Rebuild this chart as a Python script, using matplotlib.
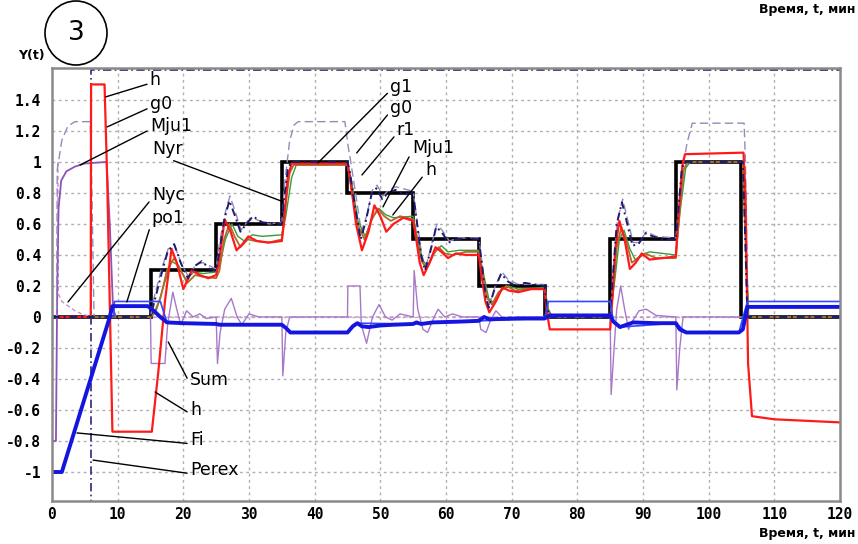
import matplotlib
matplotlib.use('Agg')
import matplotlib.pyplot as plt
from matplotlib.patches import Ellipse

# --- data (t in min) ---
nyr_edges = [0, 15, 25, 35, 45, 55, 65, 75, 85, 95, 105, 120]
nyr_levels = [0, 0.3, 0.6, 1.0, 0.8, 0.5, 0.2, 0, 0.5, 1.0, 0]

h_red = [(0, 0), (5.9, 0), (5.95, 1.5), (8.0, 1.5), (8.4, 0.9), (9.2, -0.74), (15.2, -0.74),
         (16.2, -0.35), (17.2, 0.1), (18.2, 0.44), (19.0, 0.35), (20.0, 0.18), (21.3, 0.3),
         (22.5, 0.27), (23.8, 0.25), (25.0, 0.27), (25.4, 0.35), (26.3, 0.63), (27.2, 0.55),
         (28.1, 0.43), (29.0, 0.47), (29.9, 0.52), (31.2, 0.49), (33.0, 0.48), (35.0, 0.49),
         (35.3, 0.6), (35.9, 0.9), (36.5, 0.99), (45.0, 0.99), (45.4, 0.9), (46.3, 0.6),
         (47.2, 0.43), (48.2, 0.55), (49.1, 0.72), (50.0, 0.65), (50.9, 0.55), (52.0, 0.6),
         (53.5, 0.64), (55.0, 0.62), (55.3, 0.55), (56.0, 0.35), (56.6, 0.27), (57.5, 0.35),
         (58.4, 0.45), (59.3, 0.42), (60.3, 0.38), (61.5, 0.41), (63, 0.4), (65, 0.4),
         (65.3, 0.3), (66.0, 0.1), (66.6, 0.03), (67.6, 0.1), (68.6, 0.19), (69.6, 0.17),
         (71, 0.16), (73, 0.18), (75, 0.18), (75.3, 0.05), (75.8, -0.08), (85, -0.08),
         (85.3, 0.1), (85.8, 0.45), (86.4, 0.62), (87.2, 0.5), (88.0, 0.31), (88.9, 0.35),
         (89.8, 0.41), (91, 0.37), (93, 0.38), (95, 0.39), (95.3, 0.6), (96.0, 0.98),
         (96.4, 1.05), (105.3, 1.06), (105.6, 0.8), (106.0, -0.3), (106.6, -0.64),
         (110, -0.66), (120, -0.68)]

brown = [(0, 0), (15, 0), (15.5, 0.02), (16.5, 0.12), (17.5, 0.3), (18.6, 0.38), (19.6, 0.3),
         (20.6, 0.22), (21.8, 0.27), (23, 0.26), (25, 0.25), (25.5, 0.3), (26.2, 0.5), (27, 0.6),
         (27.8, 0.52), (28.7, 0.45), (29.8, 0.5), (31, 0.49), (33, 0.48), (35, 0.5), (35.5, 0.7),
         (36.2, 0.93), (36.8, 0.98), (45, 0.98), (45.5, 0.85), (46.5, 0.6), (47.6, 0.5),
         (48.6, 0.62), (49.6, 0.7), (50.6, 0.65), (51.6, 0.62), (53, 0.65), (55, 0.63),
         (55.5, 0.5), (56.4, 0.35), (57.1, 0.32), (58, 0.4), (58.9, 0.45), (59.8, 0.41),
         (61, 0.4), (63, 0.42), (65, 0.42), (65.5, 0.3), (66.3, 0.12), (67, 0.08), (68, 0.16),
         (69.2, 0.2), (70.5, 0.17), (72, 0.18), (75, 0.18), (75.5, 0.05), (76, 0), (85, 0),
         (85.4, 0.15), (86, 0.45), (86.7, 0.58), (87.5, 0.48), (88.3, 0.35), (89.3, 0.38),
         (90.3, 0.41), (92, 0.38), (95, 0.38), (95.5, 0.65), (96.2, 0.95), (96.8, 1.0),
         (105.2, 1.0), (105.6, 0.5), (106, 0), (120, 0)]

green = [(0, 0), (15, 0), (15.8, 0.03), (17, 0.2), (18.2, 0.36), (19.3, 0.33), (20.4, 0.24),
         (21.6, 0.29), (23, 0.28), (25, 0.29), (25.5, 0.33), (26.4, 0.5), (27.4, 0.6),
         (28.3, 0.52), (29.3, 0.49), (30.5, 0.53), (32, 0.52), (35, 0.53), (35.6, 0.65),
         (36.5, 0.9), (37.2, 0.98), (45, 0.99), (45.6, 0.88), (46.6, 0.62), (47.7, 0.52),
         (48.8, 0.64), (49.8, 0.7), (50.8, 0.66), (52, 0.64), (55, 0.65), (55.6, 0.52),
         (56.5, 0.36), (57.3, 0.33), (58.3, 0.42), (59.3, 0.46), (60.3, 0.42), (62, 0.43),
         (65, 0.43), (65.6, 0.3), (66.5, 0.12), (67.3, 0.09), (68.4, 0.17), (69.5, 0.2),
         (71, 0.18), (75, 0.19), (75.6, 0.05), (76.2, 0), (85, 0), (85.6, 0.2), (86.4, 0.5),
         (87.1, 0.56), (88, 0.44), (88.8, 0.37), (89.8, 0.4), (91, 0.42), (95, 0.4),
         (95.7, 0.7), (96.5, 0.96), (97.2, 1.0), (105.2, 1.0), (105.6, 0.55), (106.1, 0), (120, 0)]

g1_navy = [(0, 0), (15, 0), (15.3, 0.05), (16.5, 0.25), (17.6, 0.42), (18.6, 0.47), (19.6, 0.35),
           (20.7, 0.25), (21.8, 0.33), (22.8, 0.36), (24, 0.31), (25, 0.3), (25.4, 0.4),
           (26.2, 0.62), (27, 0.75), (27.8, 0.66), (28.7, 0.55), (29.6, 0.6), (30.6, 0.65),
           (32, 0.61), (35, 0.6), (35.3, 0.75), (35.9, 0.95), (36.4, 1.0), (45, 1.0),
           (45.3, 0.95), (46.2, 0.7), (47, 0.5), (47.8, 0.62), (48.7, 0.8), (49.4, 0.83),
           (50.3, 0.76), (51.2, 0.8), (52.3, 0.82), (53.5, 0.79), (55, 0.8), (55.3, 0.7),
           (56.2, 0.4), (56.8, 0.3), (57.6, 0.42), (58.5, 0.58), (59.3, 0.55), (60.4, 0.48),
           (61.6, 0.5), (63, 0.51), (65, 0.5), (65.3, 0.4), (66, 0.15), (66.5, 0.06),
           (67.4, 0.18), (68.4, 0.28), (69.4, 0.23), (70.6, 0.2), (72, 0.22), (75, 0.2),
           (75.4, 0.05), (76, 0), (85, 0), (85.3, 0.2), (86, 0.6), (86.8, 0.74), (87.6, 0.6),
           (88.4, 0.46), (89.3, 0.47), (90.4, 0.54), (91.5, 0.52), (93, 0.5), (95, 0.5),
           (95.3, 0.65), (95.9, 0.95), (96.3, 1.0), (105.2, 1.0), (105.5, 0.6), (105.9, 0),
           (120, 0)]

g0_lav = [(0, 0), (0.7, 0), (0.8, 0.95), (1.5, 1.14), (2.4, 1.23), (3.5, 1.26), (5.8, 1.26),
          (6.0, 1.0), (6.4, 0), (15, 0), (15.4, 0.1), (16.6, 0.3), (17.7, 0.44), (18.7, 0.46),
          (19.7, 0.34), (20.8, 0.26), (21.9, 0.34), (23, 0.35), (25, 0.31), (25.4, 0.45),
          (26.3, 0.66), (27.1, 0.78), (27.9, 0.68), (28.8, 0.56), (29.8, 0.62), (31, 0.63),
          (33, 0.6), (35, 0.61), (35.4, 0.85), (36.2, 1.14), (36.9, 1.24), (37.5, 1.26),
          (44.6, 1.26), (45.1, 1.1), (45.5, 1.0), (46.4, 0.75), (47.1, 0.55), (47.9, 0.65),
          (48.8, 0.82), (49.5, 0.85), (50.4, 0.78), (51.3, 0.82), (52.4, 0.84), (55, 0.81),
          (55.4, 0.68), (56.3, 0.4), (56.9, 0.32), (57.7, 0.45), (58.6, 0.6), (59.4, 0.56),
          (60.5, 0.49), (62, 0.51), (65, 0.51), (65.4, 0.38), (66.1, 0.14), (66.6, 0.08),
          (67.5, 0.2), (68.5, 0.29), (69.5, 0.24), (71, 0.21), (75, 0.21), (75.5, 0.04),
          (76.1, 0), (85, 0), (85.4, 0.25), (86.1, 0.62), (86.9, 0.76), (87.7, 0.62),
          (88.5, 0.48), (89.4, 0.48), (90.5, 0.55), (92, 0.52), (95, 0.51), (95.4, 0.7),
          (96.2, 1.0), (96.7, 1.12), (97.5, 1.25), (105.4, 1.25), (105.6, 1.0), (106.0, 0),
          (120, 0)]

mju1 = [(0, -0.8), (0.6, -0.8), (0.8, 0.2), (1.0, 0.7), (1.4, 0.88), (2.2, 0.94), (3.5, 0.97),
        (5, 0.99), (8.3, 1.0), (8.8, 0.6), (9.3, 0.05), (9.8, 0)]

nyc = [(0.9, 1.0), (0.95, 0.15), (1.5, 0.1), (2.5, 0.07), (3.5, 0.04), (4.5, 0.02), (6, 0), (120, 0)]

sum_purple = [(0, 0), (15, 0), (15.1, -0.3), (17.2, -0.3), (17.6, -0.05), (18.4, 0.16), (19.0, 0.05),
              (19.6, -0.05), (20.5, 0.04), (21.5, 0.0), (22.5, 0.02), (23.5, -0.01), (25, 0),
              (25.2, -0.3), (25.6, -0.1), (26.3, 0.05), (27.3, 0.12), (28.2, 0.0), (28.9, -0.05),
              (30, 0.02), (31.5, 0.0), (35, 0), (35.15, -0.38), (35.6, -0.1), (36.2, 0.0), (45, 0),
              (45.05, 0.2), (46.9, 0.2), (47.1, -0.05), (47.9, -0.17), (48.8, 0.0), (49.8, 0.08),
              (50.8, 0.0), (51.8, -0.02), (53, 0.02), (55, 0), (55.15, 0.3), (55.7, 0.05),
              (56.5, -0.08), (57.2, -0.1), (58.2, 0.0), (58.8, 0.05), (59.8, 0.0), (61, 0.02),
              (62.5, 0.0), (65, 0), (65.3, -0.08), (66.1, -0.1), (66.8, -0.02), (67.6, 0.04),
              (68.5, 0.0), (69.5, -0.02), (71, 0), (85, 0), (85.15, -0.5), (85.6, -0.2),
              (86.0, 0.05), (86.6, 0.2), (87.2, 0.05), (87.8, -0.08), (88.5, -0.02), (89.4, 0.04),
              (90.5, 0.05), (92, 0.01), (95, 0), (95.15, -0.47), (95.6, -0.2), (96.1, 0), (120, 0)]

fi_blue = [(0, -1), (1.5, -1), (8.8, 0.0), (9.2, 0.07), (14.6, 0.07), (15.5, 0.04), (16.5, 0.0),
           (17.5, -0.035), (20, -0.04), (25, -0.045), (25.5, -0.05), (35, -0.05), (35.6, -0.07),
           (36.3, -0.1), (45, -0.1), (45.8, -0.06), (46.5, -0.04), (47.2, -0.06), (48.2, -0.065),
           (50, -0.055), (52, -0.05), (55, -0.045), (55.5, -0.035), (56.2, -0.045), (58, -0.035),
           (62, -0.03), (65, -0.025), (65.8, 0.0), (66.6, -0.015), (70, -0.01), (75, -0.01),
           (75.8, 0.01), (85, 0.01), (85.5, -0.03), (86.5, -0.065), (87.5, -0.05), (88.5, -0.035),
           (92, -0.04), (95, -0.04), (95.6, -0.08), (96.6, -0.1), (104.6, -0.1), (105.2, -0.08),
           (105.9, 0.065), (120, 0.065)]

po1_blue = [(9.4, 0.0), (9.5, 0.1), (16.5, 0.1), (17.5, -0.035), (25, -0.045), (35, -0.05),
            (36.3, -0.1), (45, -0.1), (46.5, -0.04), (55, -0.045), (65, -0.025), (75, -0.01),
            (75.6, 0.1), (85, 0.1), (85.5, -0.03), (86.5, -0.065), (95, -0.04), (96.6, -0.1),
            (104.6, -0.1), (105.9, 0.1), (120, 0.1)]

perex = [(0, -1.3), (6.0, -1.3), (6.0, 1.595), (120, 1.595)]

# label, point on curve, text position
labels = [("h", (8.2, 1.42), (14.9, 1.53)),
          ("g0", (8.4, 1.226), (14.9, 1.374)),
          ("Mju1", (4.26, 0.98), (14.9, 1.232)),
          ("Nyr", (34.9, 0.748), (15.2, 1.084)),
          ("Nyc", (2.44, 0.097), (15.2, 0.787)),
          ("po1", (11.4, 0.097), (15.2, 0.639)),
          ("Sum", (17.7, -0.161), (21.0, -0.406)),
          ("h", (15.7, -0.484), (21.0, -0.6)),
          ("Fi", (3.8, -0.748), (21.0, -0.794)),
          ("Perex", (6.24, -0.923), (21.0, -0.987)),
          ("g1", (40.5, 0.994), (51.5, 1.484)),
          ("g0", (46.4, 1.058), (51.5, 1.348)),
          ("r1", (47.2, 0.916), (52.5, 1.206)),
          ("Mju1", (50.4, 0.71), (54.8, 1.09)),
          ("h", (51.9, 0.658), (56.8, 0.948))]

xticks = list(range(0, 121, 10))
yticks = [-1, -0.8, -0.6, -0.4, -0.2, 0, 0.2, 0.4, 0.6, 0.8, 1, 1.2, 1.4]

fig = plt.figure(figsize=(8.58, 5.44), dpi=100)
ax = fig.add_axes([52 / 858, 43 / 544, 788 / 858, 433 / 544])


def line(pts, **kw):
    t, y = zip(*pts)
    ax.plot(t, y, **kw)


line(perex, color='#2a2a78', lw=1.2, ls=(0, (5, 2, 1, 2)))
line(nyc, color='#c890c8', lw=1.0, ls=(0, (3, 2)))
line(sum_purple, color='#a878c8', lw=1.0)
line(mju1, color='#9050b8', lw=1.3)
line(g0_lav, color='#9888b8', lw=1.0, ls=(0, (6, 3)))
line(green, color='#3a9a3a', lw=1.0)
line(brown, color='#b06a2c', lw=1.3)
line(h_red, color='#ff1a1a', lw=1.6)
line(g1_navy, color='#1c1c70', lw=1.4, ls=(0, (4, 2, 1, 2)))
ax.stairs(nyr_levels, nyr_edges, color='black', lw=2.6, baseline=None)
line(po1_blue, color='#3048ff', lw=1.2)
line(fi_blue, color='#1515e0', lw=2.8)

for txt, xy, xyt in labels:
    ax.annotate(txt, xy=xy, xytext=xyt, ha='left', va='center', fontsize=12.5,
                family='DejaVu Sans',
                arrowprops=dict(arrowstyle='-', color='black', lw=1.0,
                                shrinkA=0, shrinkB=0, relpos=(0, 0.3)))

ax.set_xlim(0, 120)
ax.set_ylim(-1.187, 1.606)
ax.set_xticks(xticks)
ax.set_yticks(yticks)
ax.set_yticklabels([f'{v:g}' for v in yticks])
ax.grid(True, color='#b0b0b0', ls=(0, (2, 2.5)), lw=1)
ax.set_axisbelow(True)
ax.tick_params(axis='y', length=0, pad=8)
ax.tick_params(axis='x', length=0, pad=4)
for lab in ax.get_xticklabels() + ax.get_yticklabels():
    lab.set_family('DejaVu Sans Mono')
    lab.set_fontweight('bold')
    lab.set_fontsize(10.5)
for s in ax.spines.values():
    s.set_color('#8a8a8a')
    s.set_linewidth(1.8)

fig.text(18 / 858, 1 - 55 / 544, 'Y(t)', fontsize=9, fontweight='bold', va='center')
fig.text(855 / 858, 1 - 533 / 544, 'Время, t, мин', fontsize=9, fontweight='bold',
         ha='right', va='center')
fig.text(855 / 858, 1 - 10 / 544, 'Время, t, мин', fontsize=9, fontweight='bold',
         ha='right', va='center')
fig.add_artist(Ellipse((76 / 858, 1 - 33 / 544), 62 / 858, 64 / 544, transform=fig.transFigure,
                       fill=False, lw=1.2, color='black'))
fig.text(76 / 858, 1 - 33 / 544, '3', fontsize=19, ha='center', va='center')

fig.savefig('out.png', dpi=100)
